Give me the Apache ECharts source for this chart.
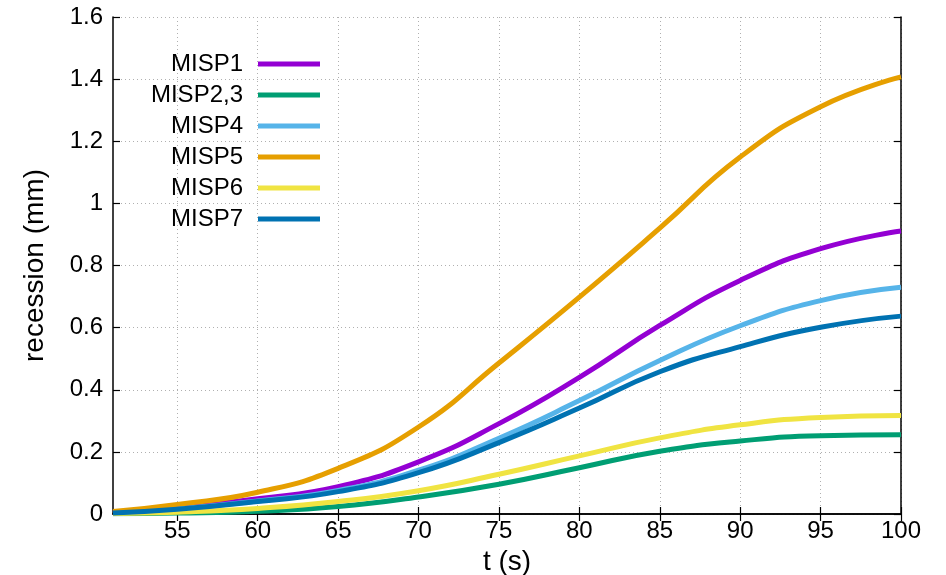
<!DOCTYPE html>
<html>
<head>
<meta charset="utf-8">
<script src="https://cdn.jsdelivr.net/npm/echarts@6/dist/echarts.min.js"></script>
<style>
html,body{margin:0;padding:0;background:#fff;}
#chart{width:946px;height:575px;}
</style>
</head>
<body>
<div id="chart"></div>
<script>
const tValues = [51, 55, 60, 65, 70, 75, 80, 85, 90, 95, 100];
const xTicks = [55, 60, 65, 70, 75, 80, 85, 90, 95, 100];
const seriesNames = ['MISP1', 'MISP2,3', 'MISP4', 'MISP5', 'MISP6', 'MISP7'];
const misp1  = [0.004, 0.020, 0.049, 0.088, 0.168, 0.291, 0.440, 0.607, 0.752, 0.854, 0.911];
const misp23 = [0.001, 0.003, 0.009, 0.024, 0.055, 0.096, 0.149, 0.202, 0.235, 0.252, 0.255];
const misp4  = [0.003, 0.016, 0.042, 0.076, 0.141, 0.244, 0.365, 0.494, 0.606, 0.687, 0.730];
const misp5  = [0.008, 0.031, 0.070, 0.147, 0.280, 0.486, 0.698, 0.920, 1.149, 1.311, 1.407];
const misp6  = [0.002, 0.006, 0.018, 0.040, 0.075, 0.128, 0.187, 0.245, 0.287, 0.311, 0.317];
const misp7  = [0.003, 0.015, 0.040, 0.072, 0.133, 0.230, 0.341, 0.458, 0.539, 0.601, 0.637];
const seriesValues = [misp1, misp23, misp4, misp5, misp6, misp7];
const colors = ['#9400d3', '#009e73', '#56b4e9', '#e69f00', '#f0e442', '#0072b2'];

const FONT = '"Liberation Sans", Arial, sans-serif';
const chart = echarts.init(document.getElementById('chart'), null, {renderer: 'canvas'});

const xBase = {
  type: 'value', min: 51, max: 100,
  axisLine: {show: true, lineStyle: {color: '#000', width: 1.5}},
  axisTick: {show: true, inside: true, length: 7, customValues: xTicks, lineStyle: {color: '#000', width: 1.2}},
};
const yBase = {
  type: 'value', min: 0, max: 1.6, interval: 0.2,
  axisLine: {show: true, lineStyle: {color: '#000', width: 1.5}},
  axisTick: {show: true, inside: true, length: 7, lineStyle: {color: '#000', width: 1.2}},
};

chart.setOption({
  animation: false,
  color: colors,
  grid: {left: 113, top: 17, right: 45, bottom: 61, containLabel: false, outerBoundsMode: 'none'},
  textStyle: {fontFamily: FONT},
  legend: {
    orient: 'vertical', align: 'right', right: 626, top: 52, padding: 0,
    itemWidth: 62, itemHeight: 5, itemGap: 7, icon: 'rect',
    textStyle: {fontSize: 24, color: '#000', fontFamily: FONT, lineHeight: 24, padding: [0, 10, 0, 0]},
    data: seriesNames
  },
  xAxis: [
    Object.assign({}, xBase, {
      position: 'bottom',
      name: 't (s)', nameLocation: 'middle', nameGap: 31,
      nameTextStyle: {fontSize: 28, color: '#000', fontFamily: FONT},
      axisLabel: {show: true, customValues: xTicks, fontSize: 24, color: '#000', margin: 5, fontFamily: FONT},
      splitLine: {show: true, lineStyle: {color: '#b0b0b0', type: [1, 3], width: 1}}
    }),
    Object.assign({}, xBase, {
      position: 'top',
      axisLabel: {show: false, customValues: xTicks},
      splitLine: {show: false}
    })
  ],
  yAxis: [
    Object.assign({}, yBase, {
      position: 'left',
      name: 'recession (mm)', nameLocation: 'middle', nameGap: 64,
      nameTextStyle: {fontSize: 28, color: '#000', fontFamily: FONT},
      axisLabel: {show: true, fontSize: 24, color: '#000', margin: 10, fontFamily: FONT},
      splitLine: {show: true, lineStyle: {color: '#b0b0b0', type: [1, 3], width: 1}}
    }),
    Object.assign({}, yBase, {
      position: 'right',
      axisLabel: {show: false},
      splitLine: {show: false}
    })
  ],
  series: seriesNames.map((name, i) => ({
    name: name,
    type: 'line',
    xAxisIndex: 0, yAxisIndex: 0,
    data: tValues.map((t, j) => [t, seriesValues[i][j]]),
    smooth: 0.5,
    showSymbol: false,
    lineStyle: {width: 5, color: colors[i]},
    itemStyle: {color: colors[i]},
    z: 2 + i
  }))
});
</script>
</body>
</html>
